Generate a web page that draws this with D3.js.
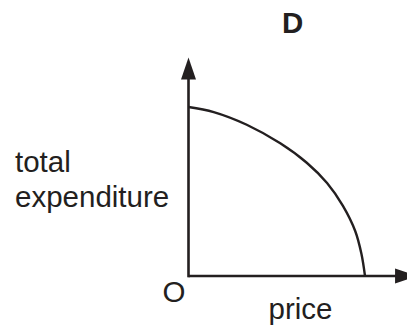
<!DOCTYPE html>
<html>
<head>
<meta charset="utf-8">
<script src="https://cdn.jsdelivr.net/npm/d3@7"></script>
<style>
  body { margin: 0; background: #fff; }
  svg { display: block; }
  text { font-family: "Liberation Sans", Arial, sans-serif; fill: #231f20; }
</style>
</head>
<body>
<svg id="canvas" width="407" height="327"></svg>
<script>
// curve (arbitrary units, 0..10 on both axes)
const price = [0, 1.43, 3.3, 5.2, 6.7, 7.85, 8.75, 9.45, 9.8, 10]
const expenditure = [10, 9.7, 8.95, 7.85, 6.7, 5.5, 4.15, 2.65, 1.3, 0]

const title = 'D'
const xLabel = 'price'
const yLabel = ['total', 'expenditure']
const originLabel = 'O'

const ink = '#231f20'
const fontSize = 29.5
const canvas = d3.select('#canvas')

const x = d3.scaleLinear().domain([0, 10]).range([188.5, 365])
const y = d3.scaleLinear().domain([0, 10]).range([276, 107])

// axes: line up to arrow base, then a slim triangle
const xEnd = 12.95, yEnd = 12.93
const arrowLen = 22, arrowHalf = 7.5

canvas.append('line')
    .attr('x1', x(0)).attr('y1', y(0))
    .attr('x2', x(xEnd) - arrowLen + 1).attr('y2', y(0))
    .attr('stroke', ink).attr('stroke-width', 2.6)

canvas.append('line')
    .attr('x1', x(0)).attr('y1', y(0) + 1.3)
    .attr('x2', x(0)).attr('y2', y(yEnd) + arrowLen - 1)
    .attr('stroke', ink).attr('stroke-width', 2.6)

canvas.append('path')
    .attr('d', `M${x(xEnd)},${y(0)} L${x(xEnd) - arrowLen},${y(0) - arrowHalf} L${x(xEnd) - arrowLen},${y(0) + arrowHalf} Z`)
    .attr('fill', ink)

canvas.append('path')
    .attr('d', `M${x(0)},${y(yEnd)} L${x(0) - arrowHalf},${y(yEnd) + arrowLen} L${x(0) + arrowHalf},${y(yEnd) + arrowLen} Z`)
    .attr('fill', ink)

const line = d3.line()
    .x(d => x(d[0]))
    .y(d => y(d[1]))
    .curve(d3.curveCatmullRom)

canvas.append('path')
    .datum(price.map((p, i) => [p, expenditure[i]]))
    .attr('d', line)
    .attr('fill', 'none')
    .attr('stroke', ink)
    .attr('stroke-width', 2.4)

// labels
canvas.append('text')
    .attr('x', 282).attr('y', 33)
    .attr('font-size', fontSize).attr('font-weight', 'bold')
    .text(title)

canvas.selectAll('.ylab')
    .data(yLabel)
    .enter()
    .append('text')
    .attr('class', 'ylab')
    .attr('x', 15)
    .attr('y', (d, i) => 172 + i * 35)
    .attr('font-size', fontSize)
    .text(d => d)

canvas.append('text')
    .attr('x', 162.5).attr('y', 302)
    .attr('font-size', fontSize)
    .text(originLabel)

canvas.append('text')
    .attr('x', 268.5).attr('y', 319)
    .attr('font-size', fontSize)
    .text(xLabel)
</script>
</body>
</html>
